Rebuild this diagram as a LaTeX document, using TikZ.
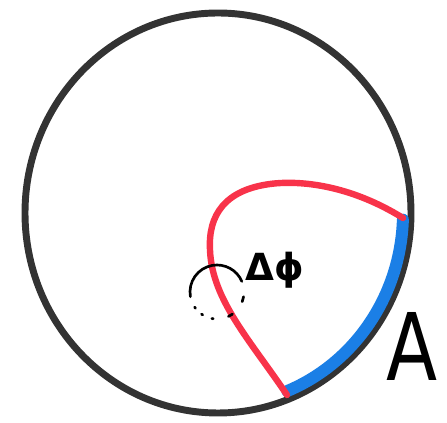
\documentclass[tikz,border=0pt]{standalone}
\usepackage{fontspec}
\setmainfont{DejaVu Sans}
\usepackage{xcolor}
\definecolor{pencil}{HTML}{333333}
\definecolor{sector}{HTML}{F8334A}
\definecolor{arcblue}{HTML}{1B7FE6}

\begin{document}
\begin{tikzpicture}[x=0.75pt, y=-0.75pt, line cap=round, line join=round]
    \useasboundingbox (0, 0) rectangle (447, 423);

    % Circulo
    \draw[pencil, line width=5.2pt] (218, 213) ellipse [x radius=193, y radius=200];

    % Arco A
    \draw[arcblue, line width=9pt] (218, 213) ++(2:185 and 192)
        arc[start angle=2, end angle=68, x radius=185, y radius=192];

    % Setor
    \coordinate (top) at (403, 218);
    \coordinate (bottom) at (287, 395);
    \draw[sector, line width=4.8pt] (top)
        .. controls (350, 185) and (300, 180) .. (270, 184)
        .. controls (225, 190) and (208, 215) .. (210, 250)
        .. controls (212, 300) and (250, 340) .. (bottom);

    % Angulo
    \draw[black, line width=2pt] (217, 292) ++(170:27) arc[start angle=170, end angle=337, radius=27];
    \foreach \a/\b in {10/21, 55/65, 98/101, 122/125, 143/146}
        \draw[black, line width=2pt] (217, 292) ++(\a:27) arc[start angle=\a, end angle=\b, radius=27];

    % Rotulos
    \node[font=\fontsize{28}{30}\selectfont\bfseries] (dphi) at (275, 270) {Δϕ};
    \node[font=\fontsize{70}{72}\selectfont, xscale=0.8] (lblA) at (412, 346) {A};
\end{tikzpicture}
\end{document}
